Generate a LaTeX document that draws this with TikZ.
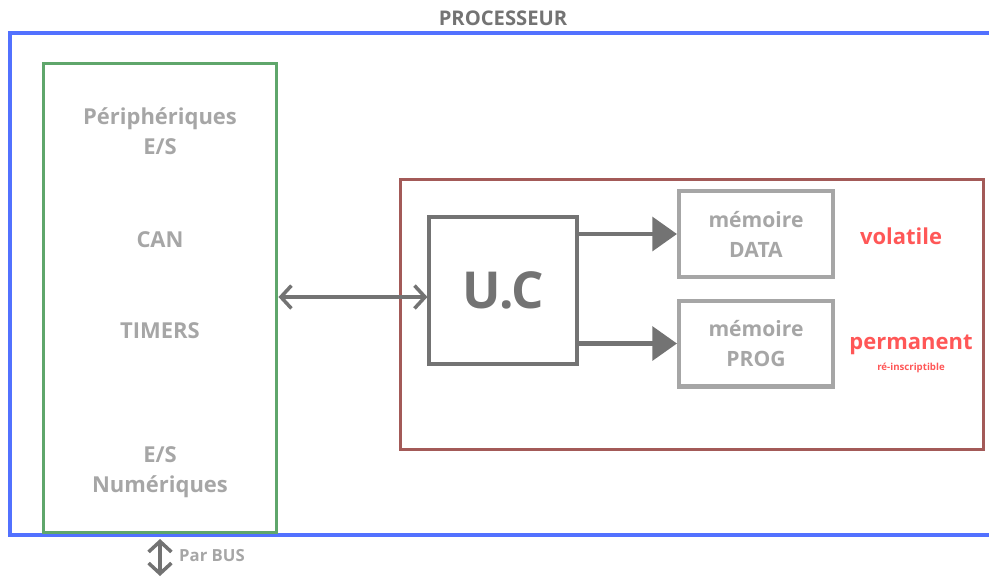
\documentclass[tikz,border=0pt]{standalone}
\usepackage{fontspec}
\setmainfont{Open Sans}
\usetikzlibrary{arrows.meta}

\definecolor{procblue}{HTML}{5271FF}
\definecolor{perigreen}{HTML}{5FA66B}
\definecolor{ucred}{HTML}{A35A58}
\definecolor{darkgrey}{HTML}{737373}
\definecolor{lightgrey}{HTML}{A6A6A6}
\definecolor{warnred}{HTML}{FF5757}

\tikzset{
  lbl/.style={text=lightgrey,font=\bfseries\fontsize{12.5}{17}\selectfont,align=center},
  membox/.style={draw=lightgrey,line width=2.3pt,minimum width=3.08cm,minimum height=1.72cm,
    text=lightgrey,font=\bfseries\fontsize{12}{17}\selectfont,align=center},
  bigarrow/.style={draw=darkgrey,line width=2.8pt,-{Triangle[length=14pt,width=19pt]}},
  barb/.style={draw=darkgrey,line width=2pt,{Straight Barb[length=6pt,width=13pt]}-{Straight Barb[length=6pt,width=13pt]}}
}

\begin{document}
\begin{tikzpicture}[x=0.02cm,y=-0.02cm]
  \useasboundingbox (0,0) rectangle (989,576);

  % processeur frame (open on the right)
  \draw[procblue,line width=1.8pt] (995,33) -- (10,33) -- (10,535) -- (995,535);
  \node[text=darkgrey,font=\bfseries\fontsize{11.5}{14}\selectfont] (proc) at (503,18) {PROCESSEUR};

  % peripheriques
  \node[draw=perigreen,line width=1.7pt,minimum width=4.68cm,minimum height=9.4cm] (peri) at (160,298) {};
  \node[lbl] (es) at (160,131) {Périphériques\\E/S};
  \node[lbl] (can) at (160,240) {CAN};
  \node[lbl] (timers) at (160,331) {TIMERS};
  \node[lbl] (num) at (160,472) {E/S\\Numériques};

  % unite centrale + memoires
  \draw[ucred,line width=1.7pt] (400,179) rectangle (983,449);
  \node[draw=darkgrey,line width=1.8pt,minimum width=2.96cm,minimum height=2.94cm,
    text=darkgrey,font=\bfseries\fontsize{29}{34}\selectfont] (uc) at (503,290.5) {U.C};
  \node[membox] (data) at (756,234) {mémoire\\DATA};
  \node[membox] (prog) at (756,343.5) {mémoire\\PROG};

  \node[text=warnred,font=\bfseries\fontsize{12.5}{15}\selectfont] (vol) at (901,236) {volatile};
  \node[text=warnred,font=\bfseries\fontsize{12.5}{15}\selectfont] (perm) at (911,345) {permanent};
  \node[text=warnred,font=\bfseries\fontsize{5.5}{6}\selectfont,below=-2.5pt] (reins) at (perm.south) {ré-inscriptible};

  \draw[bigarrow] (uc.east |- data.west) -- (data.west);
  \draw[bigarrow] (uc.east |- prog.west) -- (prog.west);
  \coordinate (link) at (277,297);
  \draw[barb] (peri.east |- link) -- (uc.west |- link);

  % bus
  \coordinate (bustop) at (160,539);
  \coordinate (busbot) at (160,576);
  \draw[barb] (bustop) -- (busbot);
  \node[lbl,font=\bfseries\fontsize{9.5}{11}\selectfont,anchor=west] (bus) at (173,556) {Par BUS};
\end{tikzpicture}
\end{document}
